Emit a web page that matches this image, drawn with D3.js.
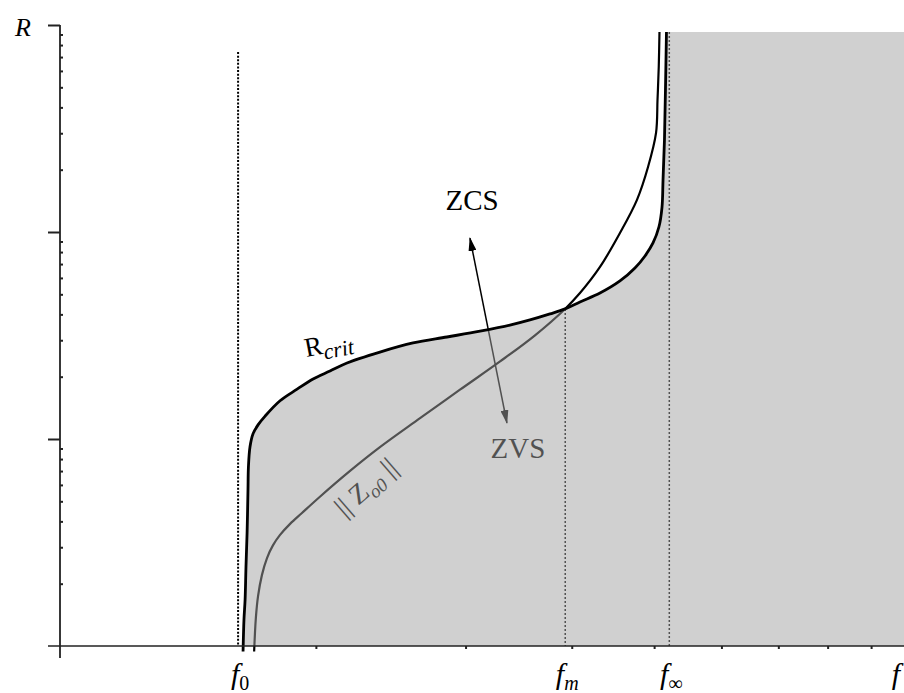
<!DOCTYPE html>
<html>
<head>
<meta charset="utf-8">
<script src="https://cdn.jsdelivr.net/npm/d3@7/dist/d3.min.js"></script>
<style>
  body { margin: 0; background: #fff; }
  svg { display: block; }
  text { font-family: "Liberation Serif", "Times New Roman", serif; }
</style>
</head>
<body>
<div id="chart"></div>
<script>
/* Curves: frequency f and resistance R, both on log axes */
const rCritF = [1.642, 1.646, 1.651, 1.655, 1.660, 1.664, 1.666, 1.673, 1.687, 1.710, 1.743, 1.815,
                1.901, 1.985, 2.078, 2.176, 2.379, 2.602, 2.853, 3.120, 3.383, 3.572, 3.771, 3.928,
                4.090, 4.318, 4.558, 4.747, 4.878, 4.985, 5.066, 5.108, 5.122, 5.142, 5.156, 5.170];
const rCritR = [0.94, 1.34, 1.67, 2.41, 3.52, 5.67, 7.32, 9.15, 10.6, 11.7, 12.9, 15.3,
                17.4, 19.5, 21.3, 23.3, 26.3, 29.1, 31.1, 33.2, 35.5, 37.6, 40.2, 42.5,
                45.9, 50.7, 58.0, 67.0, 76.6, 88.5, 106, 132, 178, 278, 485, 925];

const zF = [1.692, 1.700, 1.710, 1.728, 1.752, 1.781, 1.815, 1.865, 1.926, 2.022, 2.194, 2.379,
            2.652, 2.955, 3.294, 3.621, 3.928, 4.090, 4.318, 4.558, 4.773, 4.918,
            5.026, 5.046, 5.063, 5.073];
const zR = [0.94, 1.37, 1.74, 2.20, 2.66, 3.07, 3.44, 3.89, 4.39, 5.26, 7.01, 9.13,
            12.6, 17.3, 23.7, 31.7, 42.5, 50.7, 67.8, 98.9, 143, 206,
            301, 434, 627, 925];

/* Characteristic frequencies f0, fm, f_inf and where their guide lines start */
const freqSubs = ["0", "m", "\u221E"];
const freqValues = [1.62, 3.93, 5.21];
const freqTopR = [740, 42.5, 925];

/* Axis ticks */
const decades = [1, 10, 100];
const minorSteps = [2, 3, 4, 5, 6, 7, 8, 9];
const rMajorTicks = [10, 100, 1000];
const rMinorTicks = decades.flatMap(d => minorSteps.map(k => k * d));
const fMinorTicks = minorSteps;
const rTop = 925;

/* Layout */
const W = 904, H = 693;
const svg = d3.select("#chart").append("svg").attr("width", W).attr("height", H);

const x = d3.scaleLog().domain([1, 10]).range([60, 910]);
const y = d3.scaleLog().domain([1, 1000]).range([646, 25]);

const rCrit = rCritF.map((f, i) => [f, rCritR[i]]);
const zCurve = zF.map((f, i) => [f, zR[i]]);

const line = d3.line().x(d => x(d[0])).y(d => y(d[1])).curve(d3.curveCatmullRom.alpha(0.5));

svg.append("defs").append("marker")
    .attr("id", "head")
    .attr("viewBox", "0 0 14 8")
    .attr("refX", 13).attr("refY", 4)
    .attr("markerWidth", 14).attr("markerHeight", 8)
    .attr("markerUnits", "userSpaceOnUse")
    .attr("orient", "auto-start-reverse")
  .append("path")
    .attr("d", "M0,0 L14,4 L0,8 Z")
    .attr("fill", "#000");

/* Guide lines at f0, fm, f_inf */
svg.append("g").selectAll("line")
    .data(freqValues)
    .join("line")
      .attr("x1", d => x(d)).attr("x2", d => x(d))
      .attr("y1", (d, i) => y(freqTopR[i]))
      .attr("y2", y(1))
      .attr("stroke", "#000")
      .attr("stroke-width", (d, i) => i === 0 ? 2 : 1.5)
      .attr("stroke-dasharray", (d, i) => i === 0 ? "2 1.6" : "2 2");

/* ||Z|| curve (under the shading, so it greys where shaded) */
svg.append("path")
    .attr("d", line(zCurve))
    .attr("fill", "none")
    .attr("stroke", "#000")
    .attr("stroke-width", 2.2);

/* ZCS / ZVS arrow */
const arrowFrom = [3.356, 11.95], arrowTo = [3.036, 93.5];
svg.append("line")
    .attr("x1", x(arrowFrom[0])).attr("y1", y(arrowFrom[1]))
    .attr("x2", x(arrowTo[0])).attr("y2", y(arrowTo[1]))
    .attr("stroke", "#000")
    .attr("stroke-width", 1.5)
    .attr("marker-start", "url(#head)")
    .attr("marker-end", "url(#head)");

svg.append("text")
    .attr("x", x(3.458)).attr("y", y(8.09))
    .attr("text-anchor", "middle")
    .style("font-size", "29px")
    .text("ZVS");

/* ||Z_o0|| label, along the curve */
const zl = svg.append("text")
    .attr("transform", `translate(${x(2.328)},${y(5.42)}) rotate(-41)`)
    .attr("text-anchor", "middle")
    .style("font-size", "28px");
zl.append("tspan").text("|| Z");
zl.append("tspan").attr("dy", 6).style("font-size", "19px").style("font-style", "italic").text("o0");
zl.append("tspan").attr("dy", -6).text(" ||");

/* ZVS region, drawn as a translucent grey veil */
const shade = rCrit.concat([[10, rTop], [10, 1], [rCritF[0], 1]]);
svg.append("path")
    .attr("d", d3.line().x(d => x(d[0])).y(d => y(d[1]))(shade) + "Z")
    .attr("fill", "#a2a2a2")
    .attr("fill-opacity", 0.5);

/* R_crit curve */
svg.append("path")
    .attr("d", line(rCrit))
    .attr("fill", "none")
    .attr("stroke", "#000")
    .attr("stroke-width", 2.8);

/* Axes */
const axisColor = "#222";
svg.append("line")
    .attr("x1", x(1) - 12).attr("x2", W)
    .attr("y1", y(1)).attr("y2", y(1))
    .attr("stroke", axisColor).attr("stroke-width", 1.6);
svg.append("line")
    .attr("x1", x(1)).attr("x2", x(1))
    .attr("y1", y(1) + 12).attr("y2", y(1000))
    .attr("stroke", axisColor).attr("stroke-width", 1.8);

const gxa = svg.append("g")
    .attr("transform", `translate(0,${y(1)})`)
    .call(d3.axisBottom(x).tickValues(fMinorTicks).tickSize(3).tickFormat(""));
const gya = svg.append("g")
    .attr("transform", `translate(${x(1)},0)`)
    .call(d3.axisLeft(y).tickValues(rMajorTicks).tickSize(12).tickFormat(""));
const gym = svg.append("g")
    .attr("transform", `translate(${x(1)},0)`)
    .call(d3.axisRight(y).tickValues(rMinorTicks).tickSize(3).tickFormat(""));
[gxa, gya, gym].forEach(g => {
  g.select(".domain").remove();
  g.selectAll("line").attr("stroke", axisColor).attr("stroke-width", 2);
});

/* Text labels */
svg.append("text")
    .attr("x", x(3.053)).attr("y", y(128))
    .attr("text-anchor", "middle")
    .style("font-size", "29px")
    .text("ZCS");

const rl = svg.append("text")
    .attr("transform", `translate(${x(1.948)},${y(24.9)}) rotate(-11)`)
    .style("font-size", "27px");
rl.append("tspan").text("R");
rl.append("tspan").attr("dy", 6).style("font-size", "22px").style("font-style", "italic").text("crit");

svg.append("text")
    .attr("x", 31).attr("y", 36)
    .attr("text-anchor", "end")
    .style("font-size", "26px")
    .style("font-style", "italic")
    .text("R");

freqValues.forEach((f, i) => {
  const t = svg.append("text")
      .attr("x", x(f) + 2).attr("y", 684)
      .attr("text-anchor", "middle")
      .style("font-size", "30px")
      .style("font-style", "italic");
  t.append("tspan").text("f");
  t.append("tspan").attr("dy", 6)
      .style("font-size", "20px")
      .style("font-style", i === 1 ? "italic" : "normal")
      .text(freqSubs[i]);
});

svg.append("text")
    .attr("x", W - 4).attr("y", 684)
    .attr("text-anchor", "end")
    .style("font-size", "30px")
    .style("font-style", "italic")
    .text("f");
</script>
</body>
</html>
